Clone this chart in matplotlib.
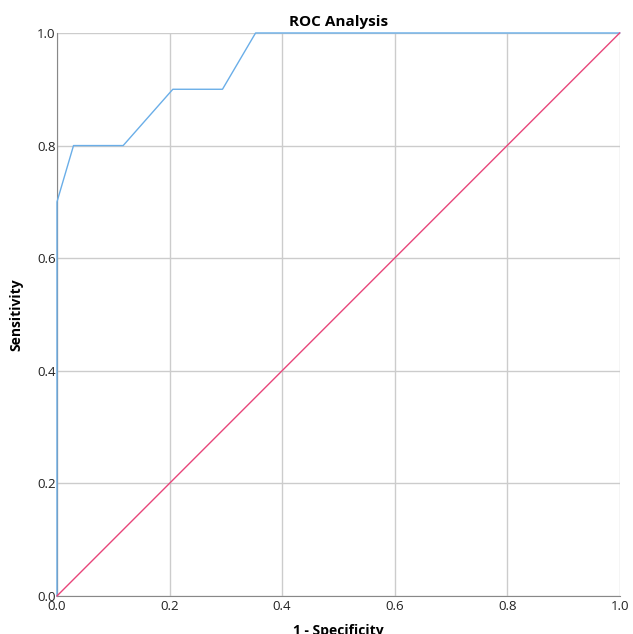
import matplotlib
matplotlib.use("Agg")
import matplotlib.pyplot as plt

# ROC curve points (1 - specificity, sensitivity)
fpr = [0.0, 0.0, 1 / 34, 4 / 34, 7 / 34, 10 / 34, 12 / 34, 1.0]
tpr = [0.0, 0.7, 0.8, 0.8, 0.9, 0.9, 1.0, 1.0]
ref_line = [0.0, 1.0]
ticks = [0.0, 0.2, 0.4, 0.6, 0.8, 1.0]
tick_labels = ["0.0", "0.2", "0.4", "0.6", "0.8", "1.0"]

plt.rcParams["font.family"] = ["Open Sans", "DejaVu Sans"]

fig = plt.figure(figsize=(6.33, 6.34), dpi=100)
ax = fig.add_axes([0.090, 0.060, 0.889, 0.888])

ax.plot(fpr, tpr, color="#6aaee8", linewidth=1.0, zorder=3, clip_on=False)
ax.plot(ref_line, ref_line, color="#e8457a", linewidth=1.0, zorder=3, clip_on=False)

ax.set_xlim(0, 1)
ax.set_ylim(0, 1)
ax.set_xticks(ticks)
ax.set_xticklabels(tick_labels)
ax.set_yticks(ticks)
ax.set_yticklabels(tick_labels)
ax.tick_params(length=0, labelsize=9.5, colors="#222222")
ax.tick_params(axis="x", pad=3)
ax.tick_params(axis="y", pad=1)
ax.grid(True, color="#cccccc", linewidth=1.0)
ax.set_axisbelow(True)

for side in ["top", "right"]:
    ax.spines[side].set_visible(False)
ax.spines["left"].set_color("#888888")
ax.spines["bottom"].set_color("#888888")

ax.set_title("ROC Analysis", fontsize=11, fontweight="bold", pad=5)
ax.set_xlabel("1 - Specificity", fontsize=10, fontweight="bold", labelpad=8)
ax.set_ylabel("Sensitivity", fontsize=10, fontweight="bold", labelpad=10)

plt.savefig("out.png", dpi=100)
